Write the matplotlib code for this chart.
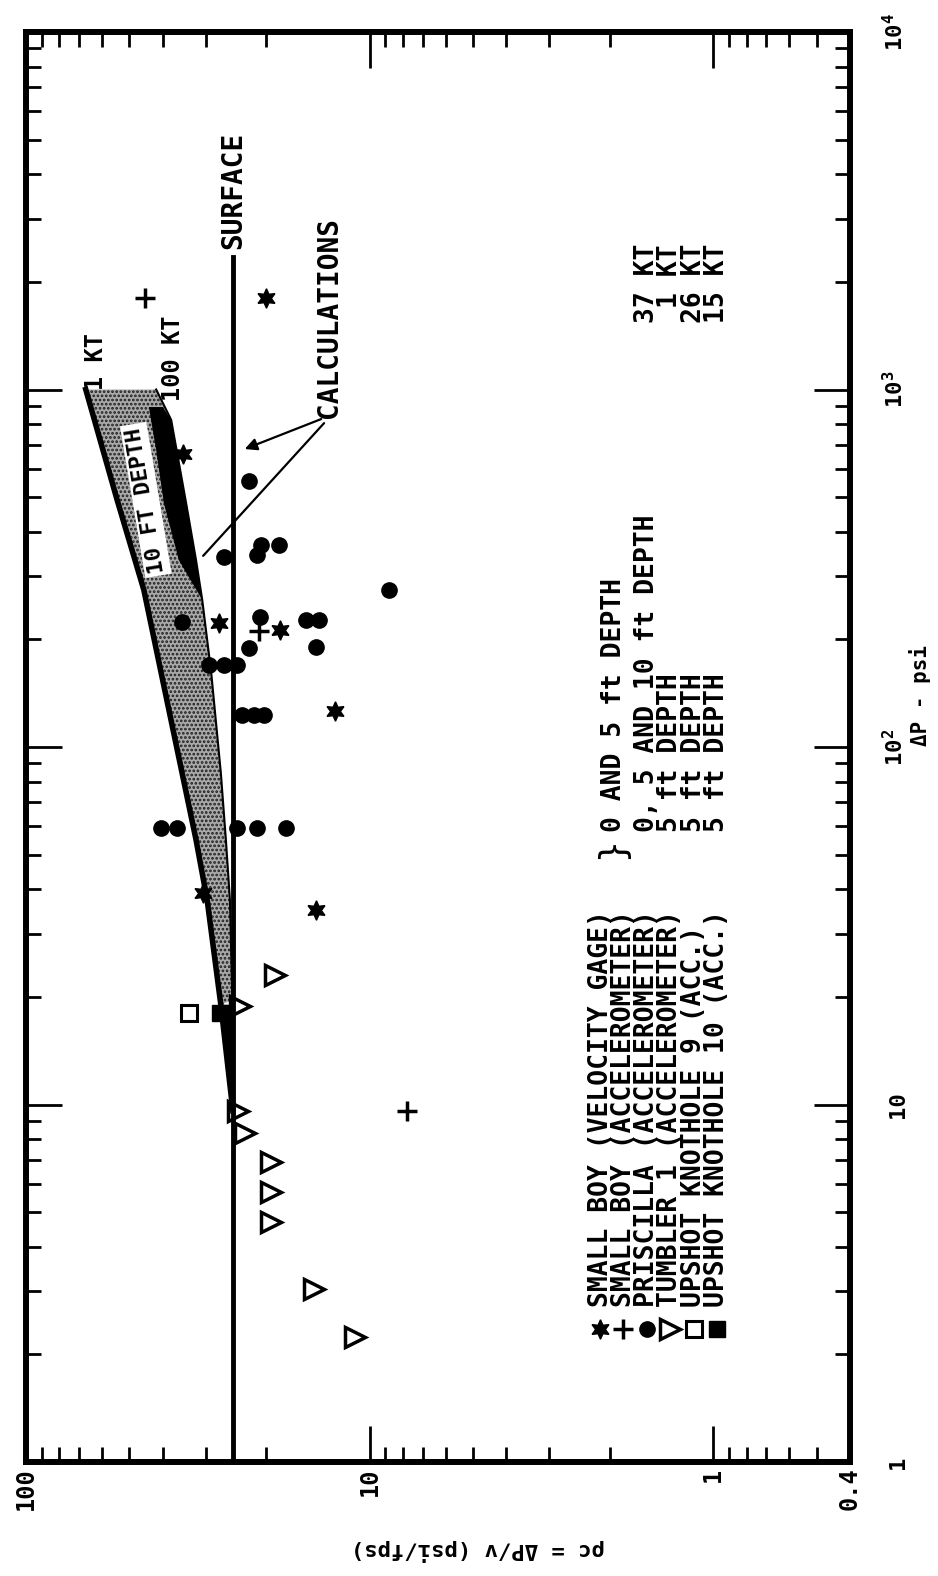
import numpy as np
import matplotlib.pyplot as plt
import matplotlib.transforms as mtransforms
from matplotlib.ticker import FixedLocator, LogLocator, NullFormatter, FixedFormatter

plt.rcParams['font.family'] = ['DejaVu Sans Mono', 'DejaVu Sans']
plt.rcParams['font.weight'] = 'bold'
plt.rcParams['mathtext.default'] = 'regular'
plt.rcParams['hatch.linewidth'] = 1.3

# Values: rho*c (psi/fps) and delta P (psi)
sb_vel_rho = [20.0, 35.0, 27.5, 18.2, 12.6, 30.5, 14.3]
sb_vel_dp = [1800, 660, 222, 212, 126, 39, 35]

sb_acc_rho = [45.0, 21.0, 7.8]
sb_acc_dp = [1800, 211, 9.6]

pr_rho = [22.4, 20.7, 18.4, 21.3, 26.5, 8.8, 35.2, 20.8, 15.3, 14.0, 22.4, 14.3,
          29.3, 26.5, 24.3, 23.5, 21.7, 20.3, 40.4, 36.4, 24.3, 21.3, 17.5]
pr_dp = [553, 367, 367, 344, 340, 275, 224, 231, 227, 227, 189, 190,
         170, 170, 170, 123, 123, 123, 59.3, 59.3, 59.3, 59.3, 59.3]

tu_rho = [23.8, 18.9, 24.1, 23.0, 19.4, 19.4, 19.4, 14.5, 11.0]
tu_dp = [18.9, 23.0, 9.6, 8.3, 6.9, 5.7, 4.7, 3.05, 2.24]

uk9_rho, uk9_dp = [33.5], [18.0]
uk10_rho, uk10_dp = [27.3], [18.0]

# calculation curves
surface_rho = [25.0, 25.0]
surface_dp = [1, 2350]

kt1_rho = [67.0, 54.3, 45.4, 38.9, 32.0, 29.7, 27.1]
kt1_dp = [1000, 491, 275, 135, 55, 37.3, 19]
tail_rho = [27.1, 25.0]
tail_dp = [19, 9.6]

kt100_rho = [41.8, 37.8, 34.2, 32.0, 30.7, 28.9, 27.1, 26.2, 25.5, 25.1]
kt100_dp = [1000, 822, 481, 333, 258, 161, 84.6, 55, 37.3, 19.6]

strip_in_rho = [43.9, 41.8, 39.7, 35.9, 30.7]
strip_in_dp = [893, 677, 481, 333, 258]
strip_out_rho = [32.0, 34.2, 37.8, 40.0]
strip_out_dp = [333, 481, 822, 893]

legend_names = ["SMALL BOY (VELOCITY GAGE)", "SMALL BOY (ACCELEROMETER)",
                "PRISCILLA (ACCELEROMETER)", "TUMBLER 1 (ACCELEROMETER)",
                "UPSHOT KNOTHOLE 9 (ACC.)", "UPSHOT KNOTHOLE 10 (ACC.)"]
depth_notes = ["0, 5 AND 10 ft DEPTH", "5 ft DEPTH", "5 ft DEPTH", "5 ft DEPTH"]
yields = ["37 KT", "1 KT", "26 KT", "15 KT"]

rho_ticks = [100, 10, 1, 0.4]
rho_labels = ["100", "10", "1", "0.4"]
dp_ticks = [1, 10, 100, 1000, 10000]
dp_labels = ["1", "10", "10$^2$", "10$^3$", "10$^4$"]

star = (6, 1, 0)
styles = [dict(marker=star, ms=14, mfc='k', mec='k'),
          dict(marker='+', ms=15, mew=2.5, color='k'),
          dict(marker='o', ms=11, mfc='k', mec='k'),
          dict(marker='>', ms=15, mfc='none', mec='k', mew=2.5),
          dict(marker='s', ms=12, mfc='none', mec='k', mew=2.2),
          dict(marker='s', ms=11, mfc='k', mec='k')]

fig = plt.figure(figsize=(9.38, 15.76), dpi=100)
ax = fig.add_axes([26 / 938, 114 / 1576, 824 / 938, 1430 / 1576])
ax.set_xscale('log')
ax.set_yscale('log')
ax.set_xlim(100, 0.4)
ax.set_ylim(1, 1e4)

# stippled 10 ft depth band
ax.fill(kt1_rho + kt100_rho[::-1], kt1_dp + kt100_dp[::-1],
        facecolor='#a9a9a9', edgecolor='#1e1e1e', hatch='....', lw=0, zorder=2)
ax.fill(strip_in_rho + strip_out_rho, strip_in_dp + strip_out_dp,
        color='k', lw=0, zorder=3)
ax.fill(tail_rho + [surface_rho[0]], tail_dp + [tail_dp[0]], color='k', lw=0, zorder=3)
ax.plot(kt1_rho + tail_rho[1:], kt1_dp + tail_dp[1:], 'k-', lw=4, zorder=3)
ax.plot(kt100_rho, kt100_dp, 'k-', lw=1.5, zorder=3)
ax.plot(surface_rho, surface_dp, 'k-', lw=3.5, zorder=4)

series = [(sb_vel_rho, sb_vel_dp), (sb_acc_rho, sb_acc_dp), (pr_rho, pr_dp),
          (tu_rho, tu_dp), (uk9_rho, uk9_dp), (uk10_rho, uk10_dp)]
for (r, p), st in zip(series, styles):
    ax.plot(r, p, ls='none', zorder=5, **st)

# annotations
ax.text(62.5, 1194, "1 KT", rotation=90, fontsize=17, ha='center', va='center')
ax.text(37.3, 1225, "100 KT", rotation=90, fontsize=17, ha='center', va='center')
ax.text(25.0, 3600, "SURFACE", rotation=90, fontsize=20, ha='center', va='center')
ax.text(13.1, 1585, "CALCULATIONS", rotation=90, fontsize=20, ha='center', va='center')
ax.text(44.8, 491, "10 FT DEPTH", rotation=99.5, fontsize=16, ha='center', va='center',
        rotation_mode='anchor', zorder=6,
        bbox=dict(boxstyle='square,pad=0.15', fc='white', ec='none'))
ax.annotate('', xy=(23.5, 677), xytext=(13.6, 832),
            arrowprops=dict(arrowstyle='-|>', lw=1.6, color='k', mutation_scale=18))
ax.annotate('', xy=(30.9, 338), xytext=(13.4, 816),
            arrowprops=dict(arrowstyle='-', lw=1.6, color='k'))

# axes styling
for s in ax.spines.values():
    s.set_linewidth(4.3)
ax.xaxis.set_major_locator(FixedLocator(rho_ticks))
ax.xaxis.set_major_formatter(FixedFormatter(rho_labels))
ax.xaxis.set_minor_locator(LogLocator(base=10, subs=np.arange(2, 10)))
ax.xaxis.set_minor_formatter(NullFormatter())
ax.yaxis.set_major_locator(FixedLocator(dp_ticks))
ax.yaxis.set_major_formatter(NullFormatter())
ax.yaxis.set_minor_locator(LogLocator(base=10, subs=np.arange(2, 10)))
ax.yaxis.set_minor_formatter(NullFormatter())
ax.tick_params(which='both', direction='in', top=True, bottom=True, left=True, right=True,
               labelleft=False, labelright=False, width=2)
ax.tick_params(which='major', length=26)
ax.tick_params(which='minor', length=11)
ax.tick_params(axis='x', labelsize=17, labelrotation=90, pad=4)

tr = mtransforms.blended_transform_factory(ax.transAxes, ax.transData)
for v, lab in zip(dp_ticks, dp_labels):
    ax.text(1.065, v, lab, transform=tr, rotation=90, rotation_mode='anchor',
            ha='center', va='baseline', fontsize=16, clip_on=False)

fig.text(927 / 938, 1 - 696 / 1576, "\u0394P - psi", rotation=90, rotation_mode='anchor',
         ha='center', va='baseline', fontsize=15)
fig.text(478 / 938, 1 - 1550 / 1576, "\u03c1c = \u0394P/v (psi/fps)", rotation=180,
         rotation_mode='anchor', ha='center', va='center', fontsize=16)

# legend block (rotated, as in the original); multi-line anchors sit on the
# baseline of the last line, which is the last (rightmost) column
col0, step = 0.6966, 0.0284
base_off = 0.0117
last_col = col0 + 5 * step + base_off
leg_kw = dict(transform=ax.transAxes, rotation=90, rotation_mode='anchor',
              fontsize=19, linespacing=0.86, va='baseline')
for i, st in enumerate(styles):
    ax.plot([col0 + i * step], [0.093], transform=ax.transAxes, ls='none',
            clip_on=False, **st)
ax.text(last_col, 0.1084, "\n".join(legend_names), ha='left',
        multialignment='left', **leg_kw)
xb = col0 + 0.5 * step
ax.text(xb, 0.429, "}", transform=ax.transAxes, rotation=90, rotation_mode='anchor',
        ha='center', va='center', fontsize=26, fontweight='normal')
ax.text(xb + base_off, 0.4406, "0 AND 5 ft DEPTH", ha='left', **leg_kw)
ax.text(last_col, 0.4406, "\n".join(depth_notes), ha='left',
        multialignment='left', **leg_kw)
ax.text(last_col, 0.8517, "\n".join(yields), ha='right',
        multialignment='right', **leg_kw)

fig.savefig('out.png', dpi=100)
